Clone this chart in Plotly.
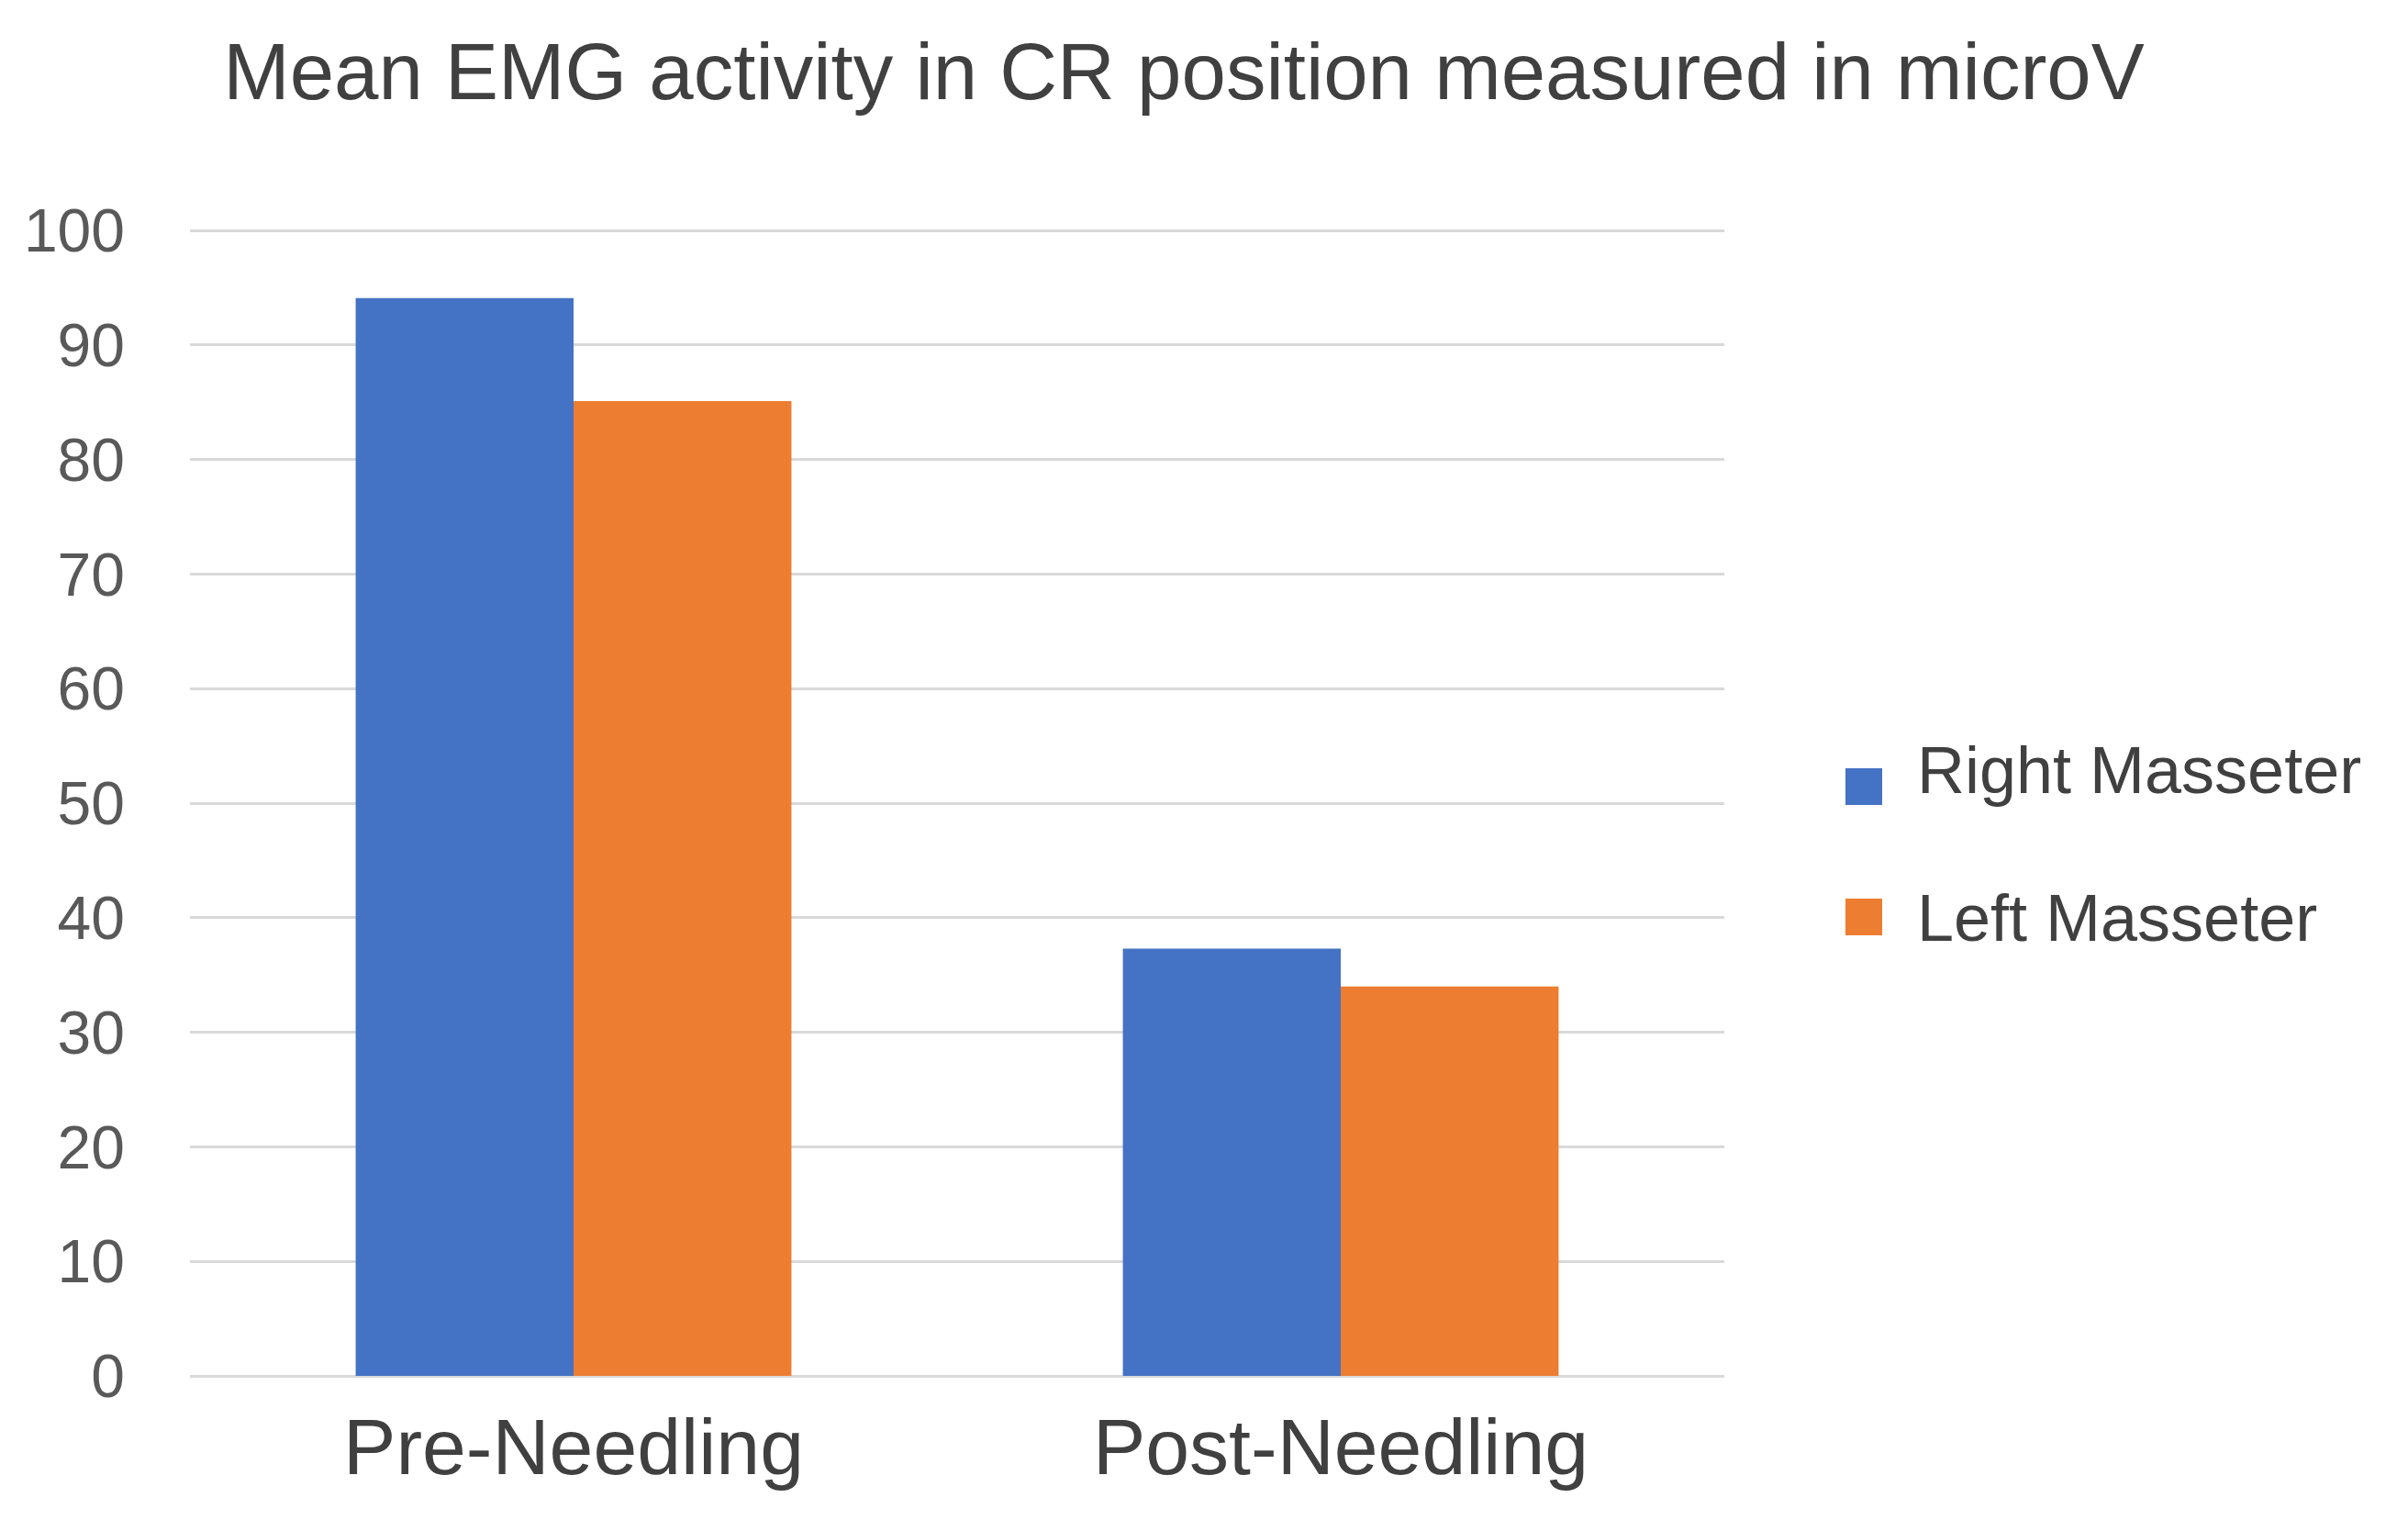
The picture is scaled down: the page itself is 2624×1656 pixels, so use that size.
import plotly.graph_objects as go

categories = ["Pre-Needling", "Post-Needling"]
right_masseter = [94.1, 37.3]
left_masseter = [85.1, 34.0]
series_names = ["Right Masseter", "Left Masseter"]
series_colors = ["#4472C4", "#ED7D31"]
tick_values = [0, 10, 20, 30, 40, 50, 60, 70, 80, 90, 100]

FONT = "Liberation Sans, Arial, sans-serif"

W, H = 2616, 1648
L, R, T, B = 199, 745, 240, 157
PW, PH = W - L - R, H - T - B


def px_x(px):
    return (px - L) / PW


def px_y(py):
    return (H - B - py) / PH


fig = go.Figure()
fig.add_trace(go.Bar(x=categories, y=right_masseter, name=series_names[0],
                     marker=dict(color=series_colors[0], line=dict(width=0)),
                     showlegend=False))
fig.add_trace(go.Bar(x=categories, y=left_masseter, name=series_names[1],
                     marker=dict(color=series_colors[1], line=dict(width=0)),
                     showlegend=False))

# legend drawn as squares + text
legend_sq = [(2023, 849), (2023, 991)]
legend_txt = [(2079, 831), (2079, 992)]
shapes, annos = [], []
for i, name in enumerate(series_names):
    cx, cy = legend_sq[i]
    shapes.append(dict(type="rect", xref="paper", yref="paper",
                       x0=px_x(cx - 20), x1=px_x(cx + 20),
                       y0=px_y(cy + 20), y1=px_y(cy - 20),
                       fillcolor=series_colors[i], line=dict(width=0)))
    tx, ty = legend_txt[i]
    annos.append(dict(text=name, xref="paper", yref="paper",
                      x=px_x(tx), y=px_y(ty), xanchor="left", yanchor="middle",
                      showarrow=False,
                      font=dict(size=72, color="#404040", family=FONT)))

fig.update_layout(
    width=W, height=H,
    margin=dict(l=L, r=R, t=T, b=B, pad=0),
    paper_bgcolor="white", plot_bgcolor="white",
    barmode="group", bargap=0.432, bargroupgap=0,
    font=dict(family=FONT, color="#595959"),
    showlegend=False,
    title=dict(text="Mean EMG activity in CR position measured in microV",
               x=1282 / W, xanchor="center", xref="container",
               y=1 - 70 / H, yanchor="middle", yref="container",
               font=dict(size=87, color="#404040", family=FONT)),
    xaxis=dict(showgrid=False, zeroline=False, showline=False,
               ticks="outside", ticklen=3, tickcolor="rgba(0,0,0,0)",
               tickfont=dict(size=86, color="#404040", family=FONT)),
    yaxis=dict(range=[0, 100.24], tickvals=tick_values, showgrid=True,
               gridcolor="#D9D9D9", gridwidth=3, zeroline=True,
               zerolinecolor="#D9D9D9", zerolinewidth=3, showline=False,
               ticklabelstandoff=70,
               tickfont=dict(size=66, color="#595959", family=FONT)),
    shapes=shapes,
    annotations=annos,
)

fig.write_html("out.html")
